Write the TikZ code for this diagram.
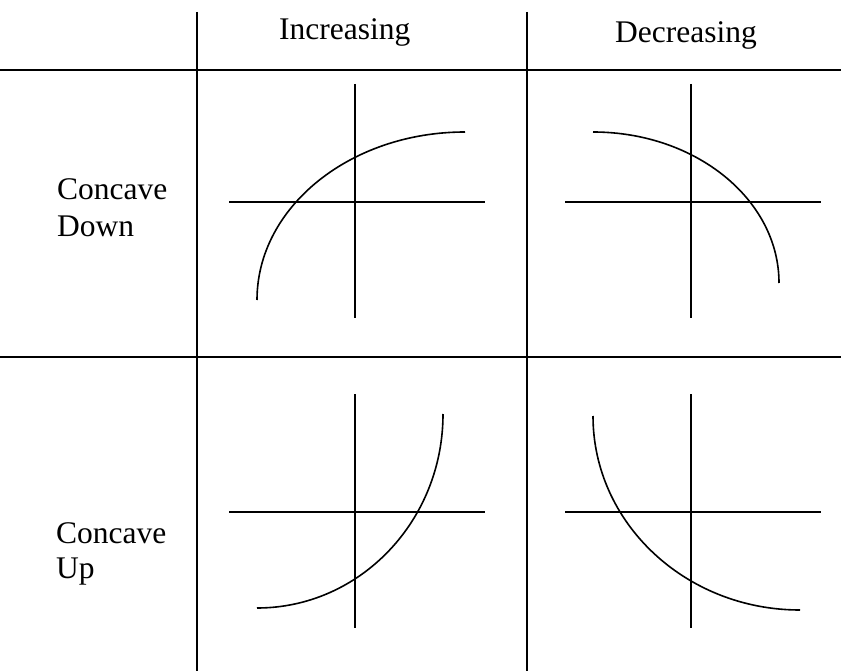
\documentclass[tikz,border=0pt]{standalone}
\usepackage{fontspec}
\setmainfont{Liberation Serif}
\begin{document}
\begin{tikzpicture}[x=1pt,y=-1pt,
  gridline/.style={line width=1.6pt,black},
  axisline/.style={line width=1.6pt,black},
  curveline/.style={line width=1.6pt,black},
  lbl/.style={inner sep=0pt,anchor=base west,font=\fontsize{31.5}{36}\selectfont}]
\useasboundingbox (0,0) rectangle (841,671);
% grid
\draw[gridline] (197,12) -- (197,671);
\draw[gridline] (527,12) -- (527,671);
\draw[gridline] (0,70) -- (841,70);
\draw[gridline] (0,357) -- (841,357);
% headers
\node[lbl] (inc) at (279,40) {Increasing};
\node[lbl] (dec) at (615,43) {Decreasing};
\node[lbl] (cd1) at (57,200) {Concave};
\node[lbl] (cd2) at (57,237) {Down};
\node[lbl] (cu1) at (56,543) {Concave};
\node[lbl] (cu2) at (56,578) {Up};
% cell 1: increasing, concave down
\draw[axisline] (355,84) -- (355,318);
\draw[axisline] (229,202) -- (485,202);
\draw[curveline] (257,300) arc[start angle=180,end angle=90,x radius=208,y radius=-168];
% cell 2: decreasing, concave down
\draw[axisline] (691,84) -- (691,318);
\draw[axisline] (565,202) -- (821,202);
\draw[curveline] (593,132) arc[start angle=90,end angle=0,x radius=186,y radius=-151];
% cell 3: increasing, concave up
\draw[axisline] (355,394) -- (355,628);
\draw[axisline] (229,512) -- (485,512);
\draw[curveline] (257,608) arc[start angle=270,end angle=360,x radius=186,y radius=-194];
% cell 4: decreasing, concave up
\draw[axisline] (691,394) -- (691,628);
\draw[axisline] (565,512) -- (821,512);
\draw[curveline] (593,416) arc[start angle=180,end angle=270,x radius=207,y radius=-194];
\end{tikzpicture}
\end{document}
